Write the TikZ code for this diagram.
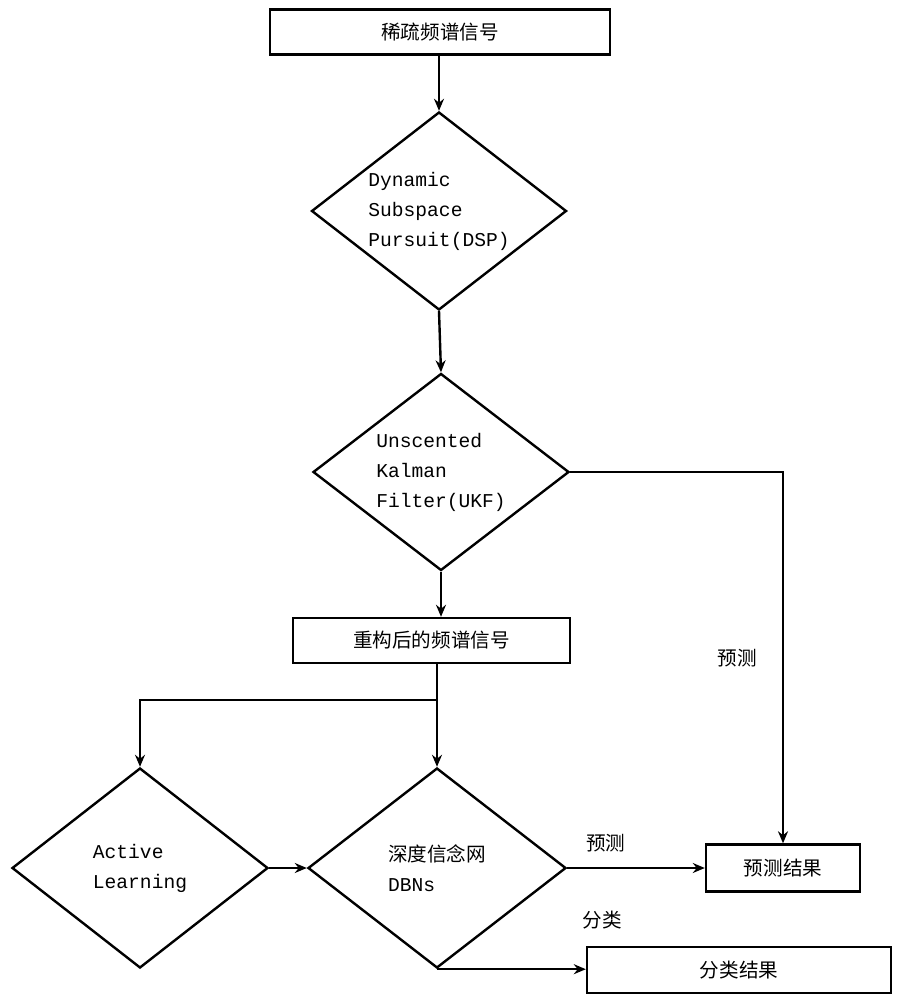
\documentclass[tikz,border=0pt]{standalone}
\usepackage{fontspec}
\setmainfont{Noto Sans CJK SC}
\setmonofont{Liberation Mono}
\usetikzlibrary{shapes.geometric,arrows.meta}

\begin{document}
\begin{tikzpicture}[x=0.5pt, y=-0.5pt, >={Stealth[length=6pt,width=5pt]}, line width=1.2pt,
  font=\fontsize{9.8}{15}\selectfont,
  box/.style={draw, rectangle, inner sep=0pt},
  decision/.style={draw, diamond, aspect=1.3, inner sep=0pt, align=left,
    font=\fontsize{9.8}{15}\selectfont\ttfamily}]

	\useasboundingbox (0,0) rectangle (900,1000);

	% main column
	\node [box, minimum width=170pt, minimum height=22.5pt] (sparse) at (440,32) {稀疏频谱信号};
	\node [decision, minimum width=127.5pt, minimum height=99pt] (dsp) at (439,211)
	  {Dynamic\\Subspace\\Pursuit(DSP)};
	\node [decision, minimum width=128pt, minimum height=98.5pt] (ukf) at (441,472)
	  {Unscented\\Kalman\\Filter(UKF)};
	\node [box, minimum width=138.5pt, minimum height=22.5pt] (rebuilt) at (431.5,640.5) {重构后的频谱信号};

	% bottom row
	\node [decision, minimum width=128pt, minimum height=100pt] (al) at (140,868)
	  {Active\\Learning};
	\node [decision, minimum width=129pt, minimum height=100pt] (dbn) at (437,868)
	  {{\rmfamily 深度信念网}\\DBNs};
	\node [box, minimum width=77pt, minimum height=23.5pt] (pred) at (783,868) {预测结果};
	\node [box, minimum width=152pt, minimum height=23pt] (cls) at (739,970) {分类结果};

	\coordinate (split) at (437,700);

	\draw [->] (sparse.south -| dsp) -- (dsp.north);
	\draw [->] (dsp.south) -- (ukf.north);
	\draw [->] (ukf.south) -- (ukf |- rebuilt.north);

	\draw (rebuilt.south -| split) -- (split);
	\draw [->] (split) -| (al.north);
	\draw [->] (split) -- (dbn.north);
	\draw [->] (al) -- (dbn);

	\draw [->] (ukf.east) -| (pred.north)
	  node (ukfpred) [pos=0.75, left=9pt] {预测};
	\draw [->] (dbn) -- (pred)
	  node (dbnpred) [pos=0.28, above=4pt] {预测};
	\draw [->] (dbn.south) -- (dbn.south -| cls.west);
	\node (dbncls) at (602,920) {分类};

\end{tikzpicture}
\end{document}
